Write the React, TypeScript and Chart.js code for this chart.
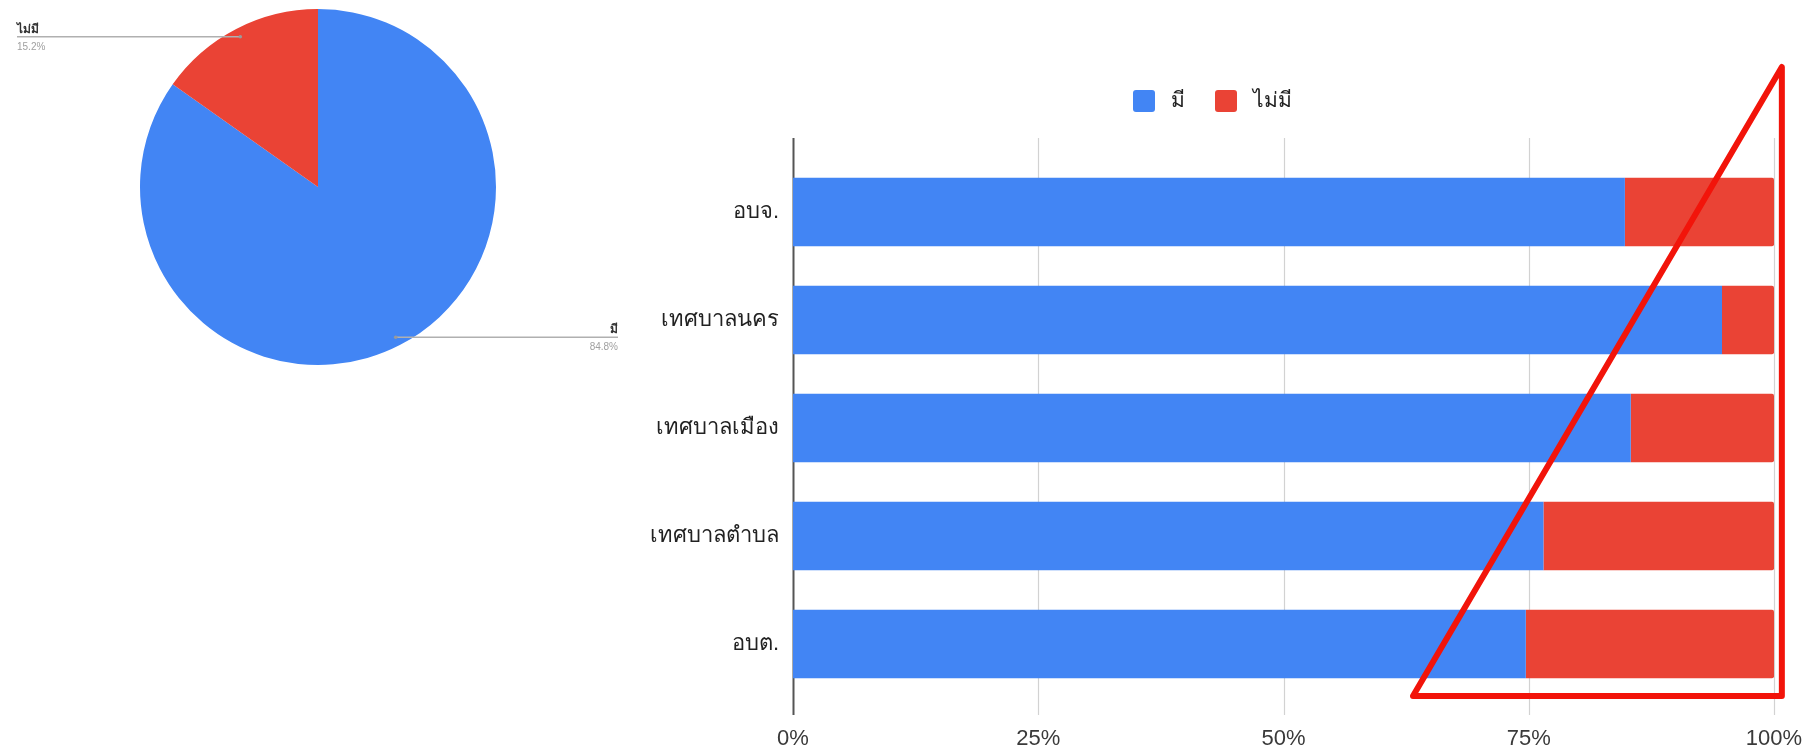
import React, { useEffect, useRef } from 'react';
import { Chart, registerables } from 'chart.js';

Chart.register(...registerables);

// ---------- data ----------
const categories = ['อบจ.', 'เทศบาลนคร', 'เทศบาลเมือง', 'เทศบาลตำบล', 'อบต.'];
const seriesNames = ['มี', 'ไม่มี'];
const haveValues = [84.8, 94.7, 85.4, 76.5, 74.7];
const notHaveValues = [15.2, 5.3, 14.6, 23.5, 25.3];
const xTickValues = [0, 25, 50, 75, 100];

const pieLabels = ['มี', 'ไม่มี'];
const pieValues = [84.8, 15.2];
const pieValueLabels = ['84.8%', '15.2%'];

// annotation triangle (x in axis values)
const triangleXValues = [63.2, 100.8];

// ---------- styles ----------
const BLUE = '#4285f4';
const RED = '#ea4335';
const FONT = "'Liberation Sans', 'Noto Sans', Arial, sans-serif";

const gridPlugin = {
  id: 'extendedGrid',
  beforeDatasetsDraw(chart: any) {
    const { ctx, chartArea, scales } = chart;
    const xs = scales.x;
    ctx.save();
    xTickValues.forEach((v) => {
      const px = Math.round(xs.getPixelForValue(v)) + 0.5;
      ctx.beginPath();
      ctx.strokeStyle = v === 0 ? '#555555' : '#d2d2d2';
      ctx.lineWidth = v === 0 ? 2 : 1.2;
      ctx.moveTo(px, chartArea.top - 20);
      ctx.lineTo(px, chartArea.bottom + 17);
      ctx.stroke();
    });
    ctx.restore();
  },
};

const legendPlugin = {
  id: 'customLegend',
  afterDraw(chart: any) {
    const { ctx, chartArea } = chart;
    const datasets = chart.data.datasets;
    const cx = (chartArea.left + chartArea.right) / 2 - 71;
    const cy = chartArea.top - 57;
    const box = 22;
    const gapText = 16;
    const gapItem = 30;
    ctx.save();
    ctx.font = `21px ${FONT}`;
    const widths = datasets.map((d: any) => ctx.measureText(d.label).width);
    let total = 0;
    widths.forEach((w: number, i: number) => {
      total += box + gapText + w + (i > 0 ? gapItem : 0);
    });
    let x = cx - total / 2;
    datasets.forEach((d: any, i: number) => {
      ctx.fillStyle = d.backgroundColor;
      ctx.beginPath();
      if ((ctx as any).roundRect) {
        (ctx as any).roundRect(x, cy - box / 2, box, box, 3);
      } else {
        ctx.rect(x, cy - box / 2, box, box);
      }
      ctx.fill();
      ctx.fillStyle = '#222222';
      ctx.textAlign = 'left';
      ctx.textBaseline = 'middle';
      ctx.fillText(d.label, x + box + gapText, cy);
      x += box + gapText + widths[i] + gapItem;
    });
    ctx.restore();
  },
};

const trianglePlugin = {
  id: 'triangle',
  afterDraw(chart: any) {
    const { ctx, chartArea, scales } = chart;
    const x0 = scales.x.getPixelForValue(triangleXValues[0]);
    const x1 = scales.x.getPixelForValue(triangleXValues[1]);
    const bottom = chartArea.bottom - 2;
    const top = chartArea.top - 91;
    ctx.save();
    ctx.strokeStyle = '#f2140a';
    ctx.lineWidth = 6;
    ctx.lineJoin = 'round';
    ctx.beginPath();
    ctx.moveTo(x0, bottom);
    ctx.lineTo(x1, top);
    ctx.lineTo(x1, bottom);
    ctx.closePath();
    ctx.stroke();
    ctx.restore();
  },
};

const pieLabelPlugin = {
  id: 'pieLabels',
  afterDraw(chart: any) {
    const { ctx } = chart;
    const meta = chart.getDatasetMeta(0);
    ctx.save();
    meta.data.forEach((arc: any, i: number) => {
      const { x, y, startAngle, endAngle, outerRadius } = arc.getProps(
        ['x', 'y', 'startAngle', 'endAngle', 'outerRadius'],
        true
      );
      const mid = (startAngle + endAngle) / 2;
      const dx = x + Math.cos(mid) * outerRadius * 0.95;
      const dy = y + Math.sin(mid) * outerRadius * 0.95;
      const left = Math.cos(mid) < 0;
      const lx = left ? x - 301 : x + 300;
      ctx.strokeStyle = '#b0b0b0';
      ctx.lineWidth = 1.5;
      ctx.beginPath();
      ctx.moveTo(dx, dy);
      ctx.lineTo(lx, dy);
      ctx.stroke();
      ctx.fillStyle = '#9a9a9a';
      ctx.beginPath();
      ctx.arc(dx, dy, 1.8, 0, Math.PI * 2);
      ctx.fill();
      ctx.textAlign = left ? 'left' : 'right';
      ctx.textBaseline = 'alphabetic';
      ctx.fillStyle = '#333333';
      ctx.font = `bold 12px ${FONT}`;
      ctx.fillText(pieLabels[i], lx, dy - 4);
      ctx.fillStyle = '#a0a0a0';
      ctx.font = `10px ${FONT}`;
      ctx.textBaseline = 'top';
      ctx.fillText(pieValueLabels[i], lx, dy + 5);
    });
    ctx.restore();
  },
};

export default function App() {
  const barRef = useRef<HTMLCanvasElement>(null);
  const pieRef = useRef<HTMLCanvasElement>(null);

  useEffect(() => {
    const barChart = new Chart(barRef.current as HTMLCanvasElement, {
      type: 'bar',
      data: {
        labels: categories,
        datasets: [
          {
            label: seriesNames[0],
            data: haveValues,
            backgroundColor: BLUE,
            borderWidth: 0,
            categoryPercentage: 1,
            barPercentage: 0.632,
          },
          {
            label: seriesNames[1],
            data: notHaveValues,
            backgroundColor: RED,
            borderWidth: 0,
            borderRadius: { topRight: 2, bottomRight: 2, topLeft: 0, bottomLeft: 0 },
            borderSkipped: false,
            categoryPercentage: 1,
            barPercentage: 0.632,
          },
        ],
      },
      options: {
        indexAxis: 'y',
        responsive: false,
        animation: false,
        layout: { padding: { left: 540, right: 31, top: 158, bottom: 4 } },
        plugins: {
          legend: { display: false },
          tooltip: { enabled: false },
        },
        scales: {
          x: {
            stacked: true,
            min: 0,
            max: 100,
            afterBuildTicks(scale: any) {
              scale.ticks = xTickValues.map((v) => ({ value: v }));
            },
            afterFit(scale: any) {
              scale.height = 54;
              scale.paddingLeft = 0;
              scale.paddingRight = 0;
            },
            grid: { display: false, drawTicks: false },
            border: { display: false },
            ticks: {
              padding: 28,
              color: '#3a3a3a',
              font: { size: 22, family: FONT },
              maxRotation: 0,
              callback: (v: any) => `${v}%`,
            },
          },
          y: {
            stacked: true,
            afterFit(scale: any) {
              scale.width = 253;
            },
            grid: { display: false, drawTicks: false },
            border: { display: false },
            ticks: {
              padding: 14,
              color: '#222222',
              font: { size: 22, family: FONT },
            },
          },
        },
      },
      plugins: [gridPlugin, legendPlugin, trianglePlugin],
    } as any);

    const pieChart = new Chart(pieRef.current as HTMLCanvasElement, {
      type: 'pie',
      data: {
        labels: pieLabels,
        datasets: [
          {
            data: pieValues,
            backgroundColor: [BLUE, RED],
            borderWidth: 0,
            hoverOffset: 0,
          },
        ],
      },
      options: {
        responsive: false,
        animation: false,
        layout: { padding: { left: 140, top: 9, right: 144, bottom: 35 } },
        plugins: { legend: { display: false }, tooltip: { enabled: false } },
      },
      plugins: [pieLabelPlugin],
    } as any);

    return () => {
      barChart.destroy();
      pieChart.destroy();
    };
  }, []);

  return (
    <div
      style={{
        position: 'absolute',
        left: 0,
        top: 0,
        width: 1805,
        height: 756,
        background: '#ffffff',
        overflow: 'hidden',
      }}
    >
      <canvas
        ref={barRef}
        width={1805}
        height={756}
        style={{ position: 'absolute', left: 0, top: 0, width: 1805, height: 756 }}
      />
      <canvas
        ref={pieRef}
        width={640}
        height={400}
        style={{ position: 'absolute', left: 0, top: 0, width: 640, height: 400 }}
      />
    </div>
  );
}
